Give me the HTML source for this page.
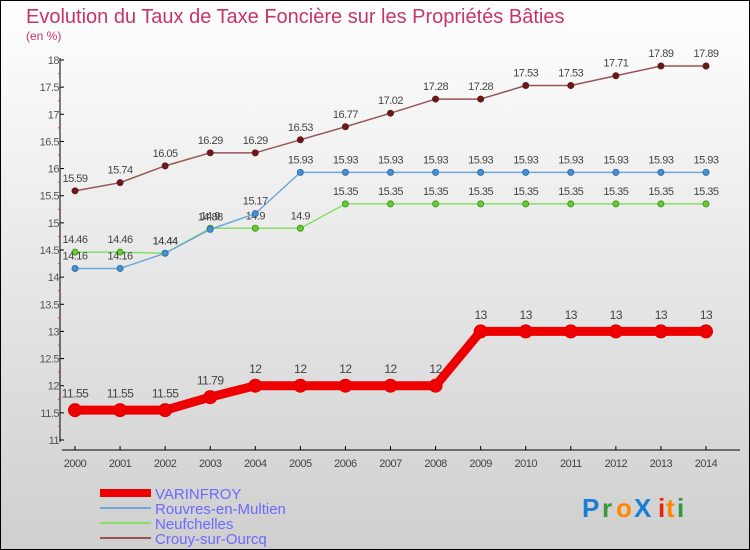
<!DOCTYPE html>
<html><head><meta charset="utf-8"><style>
body{margin:0}
#c{width:750px;height:550px;position:relative;overflow:hidden;font-family:"Liberation Sans",sans-serif}
</style></head><body>
<div id="c">
<svg id="s" width="750" height="550" xmlns="http://www.w3.org/2000/svg">
<defs><linearGradient id="bg" x1="0" y1="0" x2="0" y2="1"><stop offset="0" stop-color="#ffffff"/><stop offset="1" stop-color="#cfcfcf"/></linearGradient></defs>
<rect x="0.5" y="0.5" width="749" height="549" fill="url(#bg)" stroke="#000"/>
<text x="26" y="23" font-size="20" fill="#c8336a">Evolution du Taux de Taxe Foncière sur les Propriétés Bâties</text>
<text x="26" y="40" font-size="12" fill="#c8336a">(en %)</text>
<g id="axes"></g><g id="series"></g>
<g>
<rect x="100" y="489" width="51" height="8" fill="#ee0000"/>
<text x="155" y="499" font-size="15" fill="#6a6aff">VARINFROY</text>
<line x1="100" y1="508" x2="151" y2="508" stroke="#6fa8d8" stroke-width="2"/>
<text x="155" y="514" font-size="15" fill="#6a6aff">Rouvres-en-Multien</text>
<line x1="100" y1="523" x2="151" y2="523" stroke="#88dd66" stroke-width="2"/>
<text x="155" y="529" font-size="15" fill="#6a6aff">Neufchelles</text>
<line x1="100" y1="538" x2="151" y2="538" stroke="#995555" stroke-width="2"/>
<text x="155" y="544" font-size="15" fill="#6a6aff">Crouy-sur-Ourcq</text>
</g>
<g font-size="26" font-weight="bold">
<text x="582" y="517" fill="#1a7fd4">P</text><text x="602" y="517" fill="#3a9a3a">r</text><text x="616" y="517" fill="#ff8800">o</text><text x="634" y="517" fill="#1a7fd4">X</text><text x="658" y="517" fill="#ee2200">i</text><text x="666" y="517" fill="#ff8800">t</text><text x="677" y="517" fill="#2a9a3a">i</text>
</g>
</svg>
</div>
<script>
const years=[2000,2001,2002,2003,2004,2005,2006,2007,2008,2009,2010,2011,2012,2013,2014];
const varinfroy=[11.55,11.55,11.55,11.79,12,12,12,12,12,13,13,13,13,13,13];
const rouvres=[14.16,14.16,14.44,14.88,15.17,15.93,15.93,15.93,15.93,15.93,15.93,15.93,15.93,15.93,15.93];
const neufchelles=[14.46,14.46,14.44,14.9,14.9,14.9,15.35,15.35,15.35,15.35,15.35,15.35,15.35,15.35,15.35];
const crouy=[15.59,15.74,16.05,16.29,16.29,16.53,16.77,17.02,17.28,17.28,17.53,17.53,17.71,17.89,17.89];
const yTicks=[11,11.5,12,12.5,13,13.5,14,14.5,15,15.5,16,16.5,17,17.5,18];
const NS="http://www.w3.org/2000/svg";
function xs(i){return 75+i*(706-75)/(years.length-1);}
function ys(v){return 440-(v-11)*(440-60)/7;}
function mk(t,a,p){const e=document.createElementNS(NS,t);for(const k in a)e.setAttribute(k,a[k]);p.appendChild(e);return e;}
const ax=document.getElementById('axes');
let l=mk('line',{x1:60,y1:58,x2:60,y2:442,stroke:'#000'},ax);


l=mk('line',{x1:62,y1:450,x2:740,y2:450,stroke:'#000'},ax);


yTicks.forEach(v=>{const y=ys(v);
 mk('line',{x1:60,y1:y,x2:64,y2:y,stroke:'#000'},ax);
 if(v<18) mk('line',{x1:58,y1:ys(v+0.25),x2:60,y2:ys(v+0.25),stroke:'#ee3333'},ax);
 const t=mk('text',{x:59,y:y+4,'font-size':11,fill:'#555','text-anchor':'end','letter-spacing':'-0.5'},ax);t.textContent=String(v);
 
 
});
years.forEach((yr,i)=>{const x=xs(i);
 mk('line',{x1:x,y1:446,x2:x,y2:450,stroke:'#000'},ax);
 const t=mk('text',{x:x,y:467,'font-size':11,fill:'#444','text-anchor':'middle','letter-spacing':'-0.5'},ax);t.textContent=yr;
 
 
});
const sg=document.getElementById('series');
function series(data,name,col,w,r,dot,stroke,fs){
 const g=mk('g',{},sg);
 
 
 const p=mk('polyline',{points:data.map((v,i)=>xs(i)+','+ys(v)).join(' '),fill:'none',stroke:col,'stroke-width':w,'stroke-linejoin':'round'},g);
 
 
 data.forEach((v,i)=>{const c=mk('circle',{cx:xs(i),cy:ys(v),r:r,fill:dot,stroke:stroke,'stroke-width':1},g);
  
  
  const t=mk('text',{x:xs(i),y:ys(v)-(r+6),'font-size':fs,fill:'#444','text-anchor':'middle','letter-spacing':'-0.5'},g);t.textContent=String(v);
  
  
 });
}
series(crouy,'crouy','#995555',1.5,3,'#661a1a','#661a1a',11);
series(neufchelles,'neufchelles','#88dd66',1.5,3,'#66cc33','#449922',11);
series(rouvres,'rouvres','#6fa8d8',1.5,3,'#4a8fd0','#2a6fb0',11);
series(varinfroy,'varinfroy','#ee0000',9,6.5,'#ee0000','#dd0000',12);
</script>
</body></html>
